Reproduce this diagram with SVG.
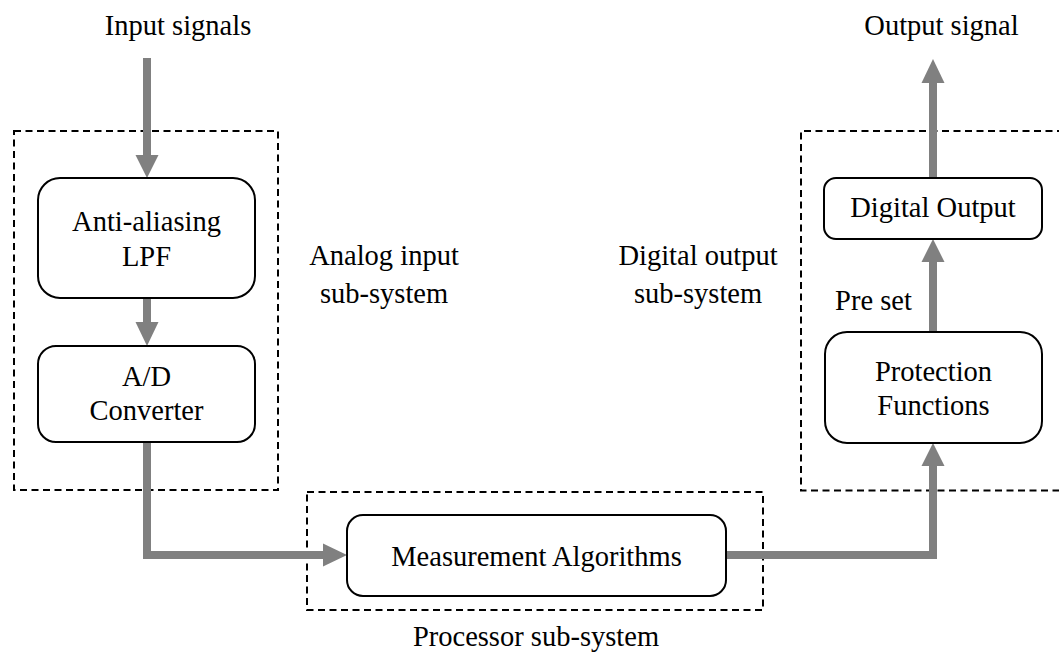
<svg xmlns="http://www.w3.org/2000/svg" width="1059" height="653" viewBox="0 0 1059 653">
<style>
.t{font-family:"Liberation Serif","Times New Roman",serif;font-size:28.5px;fill:#000;text-anchor:middle}
.box{fill:#fff;stroke:#000;stroke-width:2}
.dash{fill:none;stroke:#000;stroke-width:2;stroke-dasharray:7,4.5}
.conn{fill:none;stroke:#808080;stroke-width:8;stroke-linejoin:miter}
.head{fill:#808080}
</style>
<rect width="1059" height="653" fill="#fff"/>
<g id="subsystems">
<rect class="dash" x="14" y="131" width="264" height="359"/>
<rect class="dash" x="307" y="492" width="456" height="118"/>
<path class="dash" d="M1064 131 H801 V490.5 H1064"/>
</g>
<g id="connectors">
<line class="conn" x1="147" y1="58" x2="147" y2="156"/>
<polygon class="head" points="135.5,155 158.5,155 147,178"/>
<line class="conn" x1="147" y1="298" x2="147" y2="323"/>
<polygon class="head" points="135.5,322 158.5,322 147,346"/>
<polyline class="conn" points="147,442 147,555 324,555"/>
<polygon class="head" points="323,543.5 323,566.5 347,555"/>
<polyline class="conn" points="726,555 933,555 933,465"/>
<polygon class="head" points="921.5,466 944.5,466 933,443"/>
<line class="conn" x1="933" y1="332" x2="933" y2="261"/>
<polygon class="head" points="921.5,262 944.5,262 933,239"/>
<line class="conn" x1="933" y1="178" x2="933" y2="82"/>
<polygon class="head" points="921.5,83 944.5,83 933,59"/>
</g>
<g id="lpf">
<rect class="box" x="38" y="178" width="217" height="120" rx="22"/>
<text class="t" x="146.5" y="231">Anti-aliasing</text>
<text class="t" x="146.5" y="266">LPF</text>
</g>
<g id="adc">
<rect class="box" x="38" y="346" width="217" height="96" rx="18"/>
<text class="t" x="146.5" y="386">A/D</text>
<text class="t" x="146.5" y="420">Converter</text>
</g>
<g id="measurement">
<rect class="box" x="347" y="515" width="379" height="81" rx="16"/>
<text class="t" x="536.5" y="566">Measurement Algorithms</text>
</g>
<g id="protection">
<rect class="box" x="825" y="332" width="217" height="111" rx="22"/>
<text class="t" x="933.5" y="381">Protection</text>
<text class="t" x="933.5" y="415">Functions</text>
</g>
<g id="digital-output">
<rect class="box" x="824" y="178" width="218" height="61" rx="12"/>
<text class="t" x="933" y="217">Digital Output</text>
</g>
<g id="labels">
<text class="t" x="178" y="35">Input signals</text>
<text class="t" x="941.5" y="35">Output signal</text>
<text class="t" x="384" y="265">Analog input</text>
<text class="t" x="384" y="303">sub-system</text>
<text class="t" x="698" y="265">Digital output</text>
<text class="t" x="698" y="303">sub-system</text>
<text class="t" x="536" y="646">Processor sub-system</text>
<text class="t" x="873.5" y="310">Pre set</text>
</g>
</svg>
